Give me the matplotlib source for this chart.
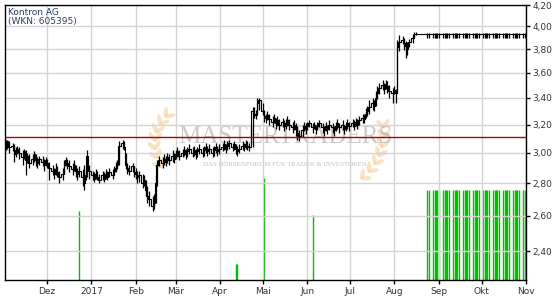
import matplotlib
matplotlib.use('Agg')
import matplotlib.pyplot as plt
import matplotlib.ticker as mticker
from matplotlib.patches import Ellipse
from matplotlib.transforms import IdentityTransform
import numpy as np
import pandas as pd

# daily quotes Nov 2016 - mid Aug 2017
days = pd.bdate_range('2016-11-02', '2017-08-18')
close = [
    # Nov
    3.06, 3.08, 3.04, 3.05, 3.02, 2.99, 3.03, 3.00, 2.97, 3.01, 2.95, 2.98, 2.93, 2.96, 2.99, 2.95, 2.93, 2.96, 2.94, 2.92, 2.95,
    # Dez
    2.93, 2.90, 2.88, 2.86, 2.89, 2.87, 2.84, 2.86, 2.92, 2.95, 2.93, 2.91, 2.89, 2.92, 2.88, 2.86, 2.88, 2.84, 2.80, 2.85, 2.98, 2.88,
    # Jan
    2.85, 2.83, 2.86, 2.84, 2.82, 2.85, 2.83, 2.86, 2.84, 2.87, 2.85, 2.88, 2.90, 2.92, 3.05, 3.07, 3.04, 2.92, 2.90, 2.88, 2.91, 2.87,
    # Feb
    2.86, 2.84, 2.85, 2.80, 2.82, 2.76, 2.72, 2.70, 2.66, 2.68, 2.80, 2.92, 2.95, 2.93, 2.96, 2.94, 2.97, 2.95, 2.98, 2.96,
    # Mar
    2.99, 3.01, 2.98, 3.00, 3.02, 2.99, 3.01, 3.03, 3.00, 3.02, 2.99, 3.01, 3.03, 3.00, 3.02, 3.04, 3.01, 3.03, 3.00, 3.02, 3.04, 3.01, 3.03,
    # Apr
    3.04, 3.06, 3.03, 3.05, 3.07, 3.04, 3.06, 3.03, 3.01, 3.03, 3.05, 3.04, 3.06, 3.05, 3.04, 3.30, 3.28, 3.27, 3.36, 3.38,
    # Mai
    3.30, 3.26, 3.25, 3.27, 3.24, 3.22, 3.25, 3.21, 3.23, 3.20, 3.22, 3.19, 3.21, 3.23, 3.20, 3.18, 3.20, 3.17, 3.14, 3.12, 3.16, 3.19, 3.17,
    # Jun
    3.19, 3.21, 3.18, 3.20, 3.17, 3.19, 3.21, 3.18, 3.16, 3.19, 3.17, 3.20, 3.18, 3.16, 3.19, 3.21, 3.18, 3.20, 3.17, 3.19, 3.21, 3.19,
    # Jul
    3.21, 3.19, 3.22, 3.20, 3.23, 3.25, 3.24, 3.28, 3.30, 3.33, 3.36, 3.34, 3.40, 3.44, 3.48, 3.50, 3.47, 3.51, 3.49, 3.45, 3.44,
    # Aug
    3.46, 3.44, 3.82, 3.86, 3.88, 3.85, 3.83, 3.80, 3.86, 3.90, 3.93, 3.93, 3.93, 3.93,
]
high = [
    3.09, 3.09, 3.08, 3.07, 3.06, 3.04, 3.05, 3.04, 3.02, 3.03, 3.02, 3.00, 2.99, 2.99, 3.01, 2.99, 2.97, 2.98, 2.98, 2.96, 2.97,
    2.96, 2.94, 2.92, 2.90, 2.93, 2.91, 2.88, 2.90, 2.95, 2.97, 2.96, 2.95, 2.93, 2.95, 2.92, 2.90, 2.91, 2.89, 2.92, 2.88, 3.02, 2.92,
    2.88, 2.87, 2.89, 2.88, 2.86, 2.88, 2.87, 2.89, 2.88, 2.90, 2.89, 2.91, 2.94, 2.95, 3.08, 3.09, 3.08, 3.00, 2.93, 2.92, 2.93, 2.91,
    2.90, 2.88, 2.88, 2.86, 2.85, 2.82, 2.78, 2.75, 2.72, 2.73, 2.85, 2.95, 2.98, 2.97, 2.99, 2.98, 3.00, 2.99, 3.02, 3.00,
    3.02, 3.04, 3.02, 3.03, 3.05, 3.03, 3.04, 3.06, 3.04, 3.05, 3.03, 3.04, 3.06, 3.04, 3.05, 3.07, 3.05, 3.06, 3.04, 3.05, 3.07, 3.05, 3.06,
    3.07, 3.09, 3.06, 3.08, 3.09, 3.07, 3.08, 3.06, 3.05, 3.06, 3.08, 3.07, 3.09, 3.08, 3.07, 3.33, 3.33, 3.31, 3.40, 3.40,
    3.36, 3.31, 3.28, 3.30, 3.28, 3.26, 3.28, 3.25, 3.26, 3.24, 3.25, 3.23, 3.24, 3.26, 3.24, 3.22, 3.23, 3.21, 3.19, 3.16, 3.20, 3.22, 3.21,
    3.22, 3.23, 3.21, 3.22, 3.20, 3.22, 3.23, 3.21, 3.19, 3.22, 3.20, 3.23, 3.21, 3.19, 3.22, 3.24, 3.21, 3.23, 3.20, 3.22, 3.24, 3.22,
    3.24, 3.23, 3.25, 3.24, 3.26, 3.28, 3.28, 3.32, 3.34, 3.38, 3.40, 3.38, 3.45, 3.49, 3.52, 3.54, 3.52, 3.54, 3.53, 3.50, 3.48,
    3.49, 3.47, 3.88, 3.92, 3.91, 3.90, 3.87, 3.86, 3.89, 3.93, 3.95, 3.95, 3.93, 3.93,
]
low = [
    3.02, 3.03, 3.00, 3.01, 2.94, 2.97, 2.99, 2.96, 2.92, 2.96, 2.85, 2.93, 2.90, 2.92, 2.94, 2.91, 2.90, 2.92, 2.91, 2.88, 2.91,
    2.90, 2.82, 2.85, 2.83, 2.85, 2.84, 2.80, 2.82, 2.86, 2.91, 2.89, 2.87, 2.85, 2.88, 2.84, 2.82, 2.84, 2.78, 2.76, 2.82, 2.84, 2.83,
    2.82, 2.81, 2.83, 2.82, 2.80, 2.82, 2.81, 2.83, 2.82, 2.84, 2.83, 2.85, 2.87, 2.89, 2.92, 3.03, 3.02, 2.89, 2.86, 2.85, 2.87, 2.84,
    2.83, 2.80, 2.81, 2.77, 2.78, 2.72, 2.68, 2.66, 2.63, 2.64, 2.68, 2.78, 2.91, 2.90, 2.92, 2.91, 2.93, 2.92, 2.94, 2.93,
    2.96, 2.97, 2.95, 2.97, 2.98, 2.96, 2.97, 2.99, 2.97, 2.98, 2.96, 2.97, 2.99, 2.97, 2.98, 3.00, 2.98, 2.99, 2.97, 2.98, 3.00, 2.98, 2.99,
    3.01, 3.02, 3.00, 3.02, 3.03, 3.01, 3.02, 2.99, 2.98, 3.00, 3.02, 3.01, 3.03, 3.02, 3.01, 3.04, 3.25, 3.24, 3.28, 3.31,
    3.27, 3.22, 3.21, 3.23, 3.20, 3.18, 3.21, 3.17, 3.19, 3.16, 3.18, 3.15, 3.17, 3.19, 3.16, 3.14, 3.16, 3.12, 3.09, 3.08, 3.11, 3.15, 3.13,
    3.16, 3.18, 3.14, 3.17, 3.13, 3.16, 3.18, 3.14, 3.12, 3.15, 3.13, 3.16, 3.14, 3.12, 3.15, 3.17, 3.14, 3.16, 3.13, 3.15, 3.17, 3.15,
    3.18, 3.16, 3.19, 3.17, 3.20, 3.21, 3.21, 3.25, 3.26, 3.28, 3.31, 3.30, 3.34, 3.39, 3.43, 3.46, 3.43, 3.47, 3.44, 3.40, 3.36,
    3.43, 3.36, 3.44, 3.78, 3.84, 3.79, 3.72, 3.75, 3.82, 3.85, 3.90, 3.92, 3.93, 3.93,
]

# after that the quote stays flat
flat_days = pd.bdate_range('2017-08-21', '2017-10-31')
flat_level = 3.93
tick_days = pd.bdate_range('2017-08-24', '2017-10-31')
tick_high = 3.94
tick_low = 3.90

# volume (arbitrary units)
vol_days = pd.to_datetime(['2016-12-23', '2017-04-12', '2017-04-13', '2017-05-02', '2017-06-05'])
vol_vals = [6900, 1600, 1600, 10200, 6500]
block_vol = 9000
vol_top = 27500

ref_level = 3.11
yticks = [2.4, 2.6, 2.8, 3.0, 3.2, 3.4, 3.6, 3.8, 4.0, 4.2]
month_ticks = pd.date_range('2016-12-01', '2017-11-01', freq='MS')
month_labels = ['Dez', '2017', 'Feb', 'Mär', 'Apr', 'Mai', 'Jun', 'Jul', 'Aug', 'Sep', 'Okt', 'Nov']

fig = plt.figure(figsize=(5.55, 3), dpi=100)
rect = [5.3 / 555, 20 / 300, 520.7 / 555, 275 / 300]
vax = fig.add_axes(rect)
ax = fig.add_axes(rect, sharex=vax)
ax.patch.set_visible(False)

green = '#00c000'
vax.vlines(vol_days, 0, vol_vals, color=green, lw=1)
vax.vlines(tick_days, 0, block_vol, color=green, lw=1)
vax.set_ylim(0, vol_top)
vax.set_yticks([])
vax.tick_params(axis='x', bottom=False, labelbottom=False)
for s in vax.spines.values():
    s.set_visible(False)


# watermark laurel branch, drawn in pixel coords (top-left origin)
def laurel(p0, p1, p2):
    p0, p1, p2 = np.array(p0), np.array(p1), np.array(p2)
    for u in np.linspace(0.08, 0.95, 7):
        p = (1 - u) ** 2 * p0 + 2 * u * (1 - u) * p1 + u ** 2 * p2
        d = 2 * (1 - u) * (p1 - p0) + 2 * u * (p2 - p1)
        ang = np.degrees(np.arctan2(-d[1], d[0]))
        for side in (1, -1):
            a = ang + side * 38
            off = 4.5 * np.array([np.cos(np.radians(a)), np.sin(np.radians(a))])
            e = Ellipse((p[0] + off[0], 300 - p[1] + off[1]), 11, 4.5, angle=a,
                        transform=IdentityTransform(), color='#f5c98c', alpha=0.5, lw=0)
            vax.add_artist(e)


laurel((165, 172), (143, 140), (168, 114))
laurel((357, 182), (387, 160), (383, 124))

# price bars
all_days = days.append(flat_days)
all_close = close + [flat_level] * len(flat_days)
ax.plot(all_days, all_close, color='black', lw=0.8, drawstyle='steps-mid')
ax.vlines(days, low, high, color='black', lw=0.9)
ax.vlines(tick_days, tick_low, tick_high, color='black', lw=0.9)
ax.axhline(ref_level, color='#b00000', lw=1)

ax.set_yscale('log')
ax.set_ylim(2.247, 4.2)
ax.yaxis.set_major_locator(mticker.FixedLocator(yticks))
ax.yaxis.set_minor_locator(mticker.NullLocator())
ax.yaxis.set_major_formatter(mticker.FuncFormatter(lambda v, p: f'{v:.2f}'.replace('.', ',')))
ax.yaxis.tick_right()

ax.set_xlim(pd.Timestamp('2016-11-01 18:00'), pd.Timestamp('2017-11-01'))
ax.set_xticks(month_ticks)
ax.set_xticklabels(month_labels)

ax.grid(True, color='#d4d4d4', lw=1)
ax.set_axisbelow(True)
ax.tick_params(axis='x', direction='out', length=3, width=1, pad=2, labelsize=6.5, labelcolor='#333333')
ax.tick_params(axis='y', direction='out', length=3, width=1, pad=1.5, labelsize=6.5, labelcolor='#333333')
for s in ax.spines.values():
    s.set_color('black')
    s.set_linewidth(1)

ax.text(0.006, 0.99, 'Kontron AG\n(WKN: 605395)', transform=ax.transAxes, ha='left', va='top',
        fontsize=6.5, color='#2a3f66', linespacing=1.1)

# watermark text
ax.text(0.537, 0.52, 'MASTERTRADERS', transform=ax.transAxes, ha='center', va='center',
        fontsize=18, family='Liberation Serif', color='#a8a8a8', alpha=0.6, zorder=0)
ax.text(0.537, 0.42, 'DAS BÖRSENFORUM FÜR TRADER & INVESTOREN', transform=ax.transAxes, ha='center',
        va='center', fontsize=5, family='Liberation Serif', color='#999999', alpha=0.6, zorder=0)

fig.savefig('out.png', dpi=100)
